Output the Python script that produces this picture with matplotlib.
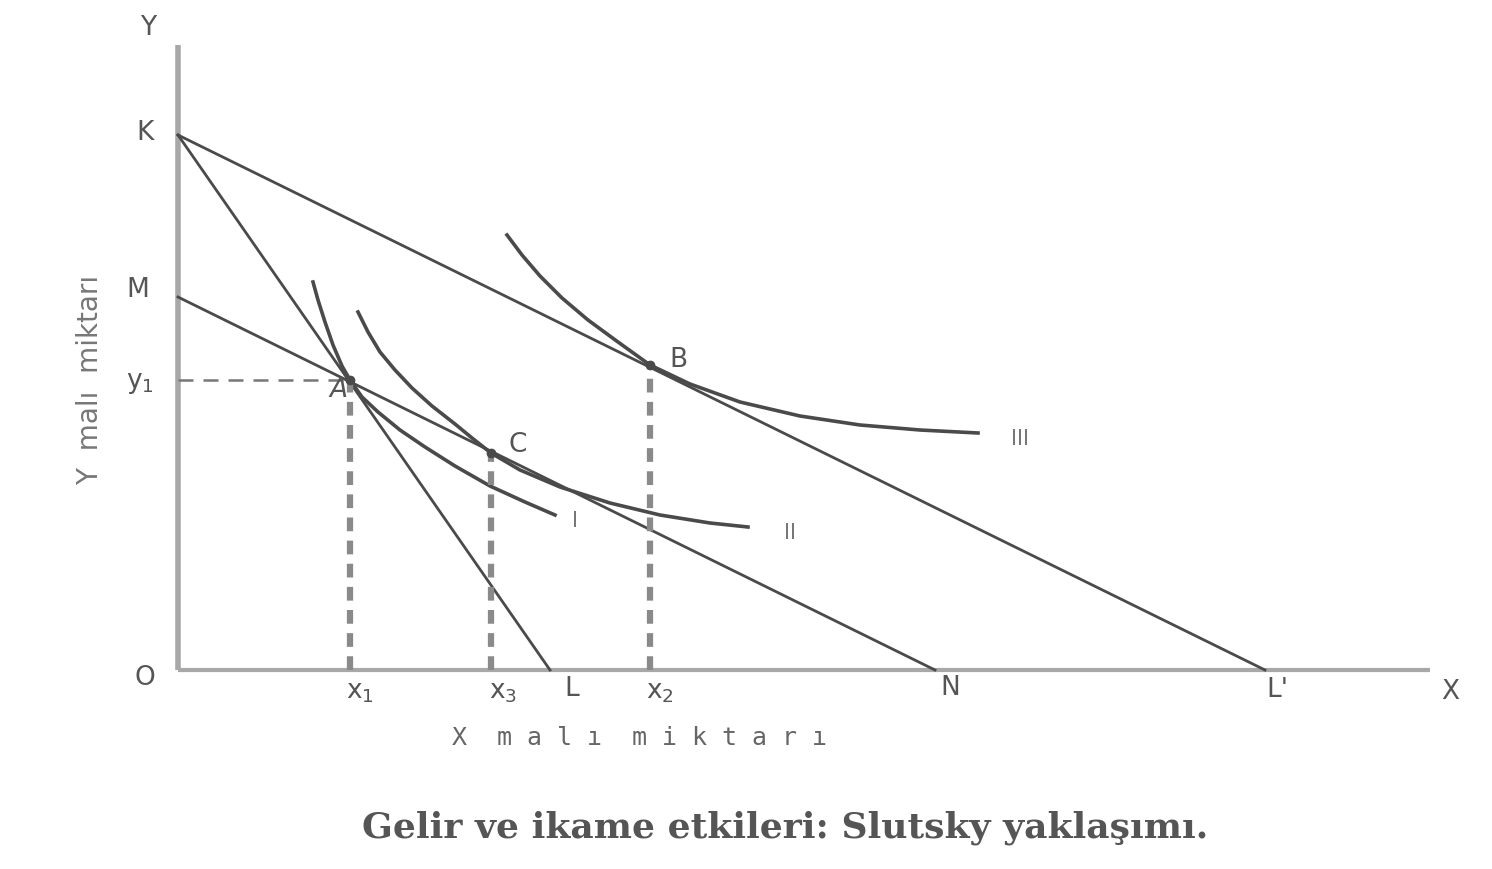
import matplotlib
matplotlib.use("Agg")
import matplotlib.pyplot as plt

# budget lines: intercepts (x-axis units, y-axis units)
K = 5.35      # Y intercept of original and new price lines
M = 3.73      # Y intercept of compensated line
L = 3.72      # X intercept of original line
N = 7.57      # X intercept of compensated line
L2 = 10.87    # X intercept of new line (L')

# equilibrium points
A = (1.72, 2.90)
C = (3.13, 2.17)
B = (4.72, 3.05)

# indifference curves
curve1_x = [1.35, 1.40, 1.47, 1.55, 1.64, 1.72, 1.84, 2.00, 2.22, 2.47, 2.77, 3.12, 3.47, 3.77]
curve1_y = [3.88, 3.70, 3.48, 3.25, 3.04, 2.90, 2.73, 2.58, 2.40, 2.23, 2.04, 1.84, 1.68, 1.55]
curve2_x = [1.80, 1.90, 2.02, 2.17, 2.34, 2.54, 2.77, 2.94, 3.13, 3.42, 3.82, 4.32, 4.82, 5.32, 5.70]
curve2_y = [3.58, 3.38, 3.18, 3.00, 2.82, 2.64, 2.46, 2.32, 2.17, 2.00, 1.83, 1.67, 1.55, 1.47, 1.43]
curve3_x = [3.29, 3.44, 3.62, 3.84, 4.10, 4.40, 4.72, 5.12, 5.62, 6.22, 6.82, 7.42, 8.00]
curve3_y = [4.35, 4.15, 3.94, 3.72, 3.50, 3.28, 3.05, 2.86, 2.68, 2.54, 2.45, 2.40, 2.37]
curve_labels = ["I", "II", "III"]

fig = plt.figure(figsize=(14.92, 8.69), dpi=100)
ax = fig.add_axes([0, 0, 1, 1])
ax.set_xlim(-1.78, 13.14)
ax.set_ylim(-1.99, 6.70)
ax.axis("off")

line_c = "#4a4a4a"
axis_c = "#a8a8a8"
txt_c = "#555555"

# axes
ax.plot([0, 0], [0, 6.25], color=axis_c, lw=4, solid_capstyle="butt")
ax.plot([0, 12.52], [0, 0], color=axis_c, lw=3, solid_capstyle="butt")

# budget lines
ax.plot([0, L], [K, 0], color=line_c, lw=2)
ax.plot([0, N], [M, 0], color=line_c, lw=2)
ax.plot([0, L2], [K, 0], color=line_c, lw=2)

# indifference curves
for cx, cy in [(curve1_x, curve1_y), (curve2_x, curve2_y), (curve3_x, curve3_y)]:
    ax.plot(cx, cy, color=line_c, lw=2.6, solid_joinstyle="round")

# dashed guides
ax.plot([0, A[0]], [A[1], A[1]], color="#777777", lw=1.8, ls=(0, (6, 4)))
for p in (A, C, B):
    ax.plot([p[0], p[0]], [0, p[1]], color="#8a8a8a", lw=4.5, ls=(0, (2.2, 1.5)))
    ax.plot(p[0], p[1], "o", color=line_c, ms=6)

fs = 19
ax.text(-0.30, 6.42, "Y", fontsize=fs, color=txt_c, ha="center", va="center")
ax.text(-0.33, 5.37, "K", fontsize=fs, color=txt_c, ha="center", va="center")
ax.text(-0.40, 3.80, "M", fontsize=fs, color=txt_c, ha="center", va="center")
ax.text(-0.38, 2.87, "y$_1$", fontsize=fs, color=txt_c, ha="center", va="center")
ax.text(-0.33, -0.08, "O", fontsize=fs, color=txt_c, ha="center", va="center")
ax.text(1.60, 2.80, "A", fontsize=fs, color=txt_c, ha="center", va="center", style="italic")
ax.text(3.40, 2.25, "C", fontsize=fs, color=txt_c, ha="center", va="center")
ax.text(5.00, 3.10, "B", fontsize=fs, color=txt_c, ha="center", va="center")

ax.text(A[0] + 0.10, -0.22, "x$_1$", fontsize=fs, color=txt_c, ha="center", va="center")
ax.text(C[0] + 0.12, -0.22, "x$_3$", fontsize=fs, color=txt_c, ha="center", va="center")
ax.text(L + 0.22, -0.19, "L", fontsize=fs, color=txt_c, ha="center", va="center")
ax.text(B[0] + 0.10, -0.22, "x$_2$", fontsize=fs, color=txt_c, ha="center", va="center")
ax.text(N + 0.15, -0.18, "N", fontsize=fs, color=txt_c, ha="center", va="center")
ax.text(L2 + 0.12, -0.20, "L'", fontsize=fs, color=txt_c, ha="center", va="center")
ax.text(12.72, -0.22, "X", fontsize=fs, color=txt_c, ha="center", va="center")

for cx, cy, lab, dx in zip([curve1_x, curve2_x, curve3_x], [curve1_y, curve2_y, curve3_y],
                           curve_labels, [0.20, 0.42, 0.42]):
    ax.text(cx[-1] + dx, cy[-1] - 0.06, lab, fontsize=15, color="#777777",
            ha="center", va="center")

ax.text(4.62, -0.68, "X  m a l ı  m i k t a r ı", fontsize=18, color="#666666",
        ha="center", va="center", family="DejaVu Sans Mono")
ax.text(-0.88, 2.90, "Y  malı  miktarı", fontsize=20, color="#777777",
        ha="center", va="center", rotation=90)

ax.text(6.07, -1.58, "Gelir ve ikame etkileri: Slutsky yaklaşımı.", fontsize=26,
        color="#555555", ha="center", va="center", family="DejaVu Serif",
        weight="bold")

fig.savefig("out.png", dpi=100, facecolor="white")
